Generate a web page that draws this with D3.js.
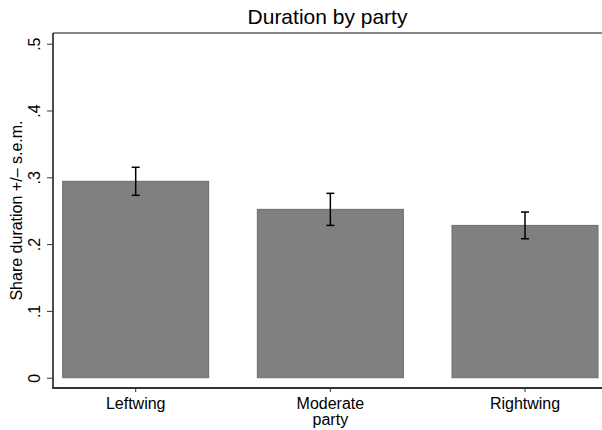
<html>
<head>
<script src="https://cdn.jsdelivr.net/npm/d3@7"></script>
<style>
  body { margin: 0; background: #fff; }
  text { font-family: "Liberation Sans", Arial, Helvetica, sans-serif; }
</style>
</head>
<body>
<script>
// chart data
var categories = ["Leftwing", "Moderate party", "Rightwing"];
var means = [0.294, 0.252, 0.228];
var sems = [0.021, 0.024, 0.020];
var yTicks = [0, 0.1, 0.2, 0.3, 0.4, 0.5];

var width = 602, height = 430;
// plot region edges
var plotLeft = 53, plotTop = 33, plotBottom = 388, plotRight = 602;

var svg = d3.select("body").append("svg")
  .attr("width", width).attr("height", height);

var y = d3.scaleLinear().domain([0, 0.5]).range([377.7, 43.7]);
var x = d3.scaleBand().domain(categories).range([62.7, 598])
  .paddingInner(0.25).paddingOuter(0);

//Title
svg.append("text").text("Duration by party")
  .attr("x", (plotLeft + plotRight) / 2).attr("y", 24)
  .attr("text-anchor", "middle").attr("font-size", "21px").attr("fill", "#000");

//Bars
svg.selectAll("rect.bar").data(categories).enter().append("rect")
  .attr("class", "bar")
  .attr("x", function(d) { return x(d); })
  .attr("y", function(d, i) { return y(means[i]); })
  .attr("width", x.bandwidth())
  .attr("height", function(d, i) { return y(0) - y(means[i]); })
  .attr("fill", "#808080").attr("stroke", "#6c6c6c").attr("stroke-width", 1);

//Error bars
var cap = 4;
var eb = svg.selectAll("g.err").data(categories).enter().append("g").attr("class", "err")
  .attr("stroke", "#000").attr("stroke-width", 1.5);
eb.append("line")
  .attr("x1", function(d) { return x(d) + x.bandwidth() / 2; })
  .attr("x2", function(d) { return x(d) + x.bandwidth() / 2; })
  .attr("y1", function(d, i) { return y(means[i] + sems[i]); })
  .attr("y2", function(d, i) { return y(means[i] - sems[i]); });
eb.append("line")
  .attr("x1", function(d) { return x(d) + x.bandwidth() / 2 - cap; })
  .attr("x2", function(d) { return x(d) + x.bandwidth() / 2 + cap; })
  .attr("y1", function(d, i) { return y(means[i] + sems[i]); })
  .attr("y2", function(d, i) { return y(means[i] + sems[i]); });
eb.append("line")
  .attr("x1", function(d) { return x(d) + x.bandwidth() / 2 - cap; })
  .attr("x2", function(d) { return x(d) + x.bandwidth() / 2 + cap; })
  .attr("y1", function(d, i) { return y(means[i] - sems[i]); })
  .attr("y2", function(d, i) { return y(means[i] - sems[i]); });

//Plot region border (top) and axis lines
svg.append("line").attr("x1", plotLeft).attr("x2", plotRight).attr("y1", plotTop).attr("y2", plotTop)
  .attr("stroke", "#111").attr("stroke-width", 1.2);
svg.append("line").attr("x1", plotLeft).attr("x2", plotLeft).attr("y1", plotTop).attr("y2", plotBottom + 1)
  .attr("stroke", "#111").attr("stroke-width", 1.5);
svg.append("line").attr("x1", plotLeft).attr("x2", plotRight).attr("y1", plotBottom).attr("y2", plotBottom)
  .attr("stroke", "#333").attr("stroke-width", 2);

//Y axis
var fmt = function(d) { return d === 0 ? "0" : d3.format(".1f")(d).replace(/^0/, ""); };
var yAxis = svg.append("g").attr("transform", "translate(" + plotLeft + ",0)")
  .call(d3.axisLeft(y).tickValues(yTicks).tickFormat(fmt).tickSize(6).tickSizeOuter(0));
yAxis.select(".domain").remove();
yAxis.selectAll(".tick line").attr("stroke", "#333").attr("stroke-width", 1);
yAxis.selectAll(".tick text")
  .attr("transform", "rotate(-90)")
  .attr("x", 0).attr("y", -13).attr("dy", null)
  .attr("text-anchor", "middle")
  .attr("font-size", "16px").attr("fill", "#000")
  .style("font-family", "'Liberation Sans', Arial, sans-serif");

//Y axis title
svg.append("text").text("Share duration +/\u2013 s.e.m.")
  .attr("transform", "translate(22," + ((plotTop + plotBottom) / 2) + ") rotate(-90)")
  .attr("text-anchor", "middle").attr("font-size", "16px").attr("fill", "#000");

//X axis
var xAxis = svg.append("g").attr("transform", "translate(0," + plotBottom + ")")
  .call(d3.axisBottom(x).tickSize(4).tickSizeOuter(0));
xAxis.select(".domain").remove();
xAxis.selectAll(".tick line").attr("stroke", "#333").attr("stroke-width", 1);
xAxis.selectAll(".tick text").remove();
xAxis.selectAll(".tick").each(function(d) {
  var words = d.split(" ");
  var t = d3.select(this).append("text")
    .attr("text-anchor", "middle").attr("font-size", "16px").attr("fill", "#000")
    .style("font-family", "'Liberation Sans', Arial, sans-serif");
  words.forEach(function(w, k) {
    t.append("tspan").attr("x", 0).attr("y", 21 + k * 16).text(w);
  });
});
</script>
</body>
</html>
